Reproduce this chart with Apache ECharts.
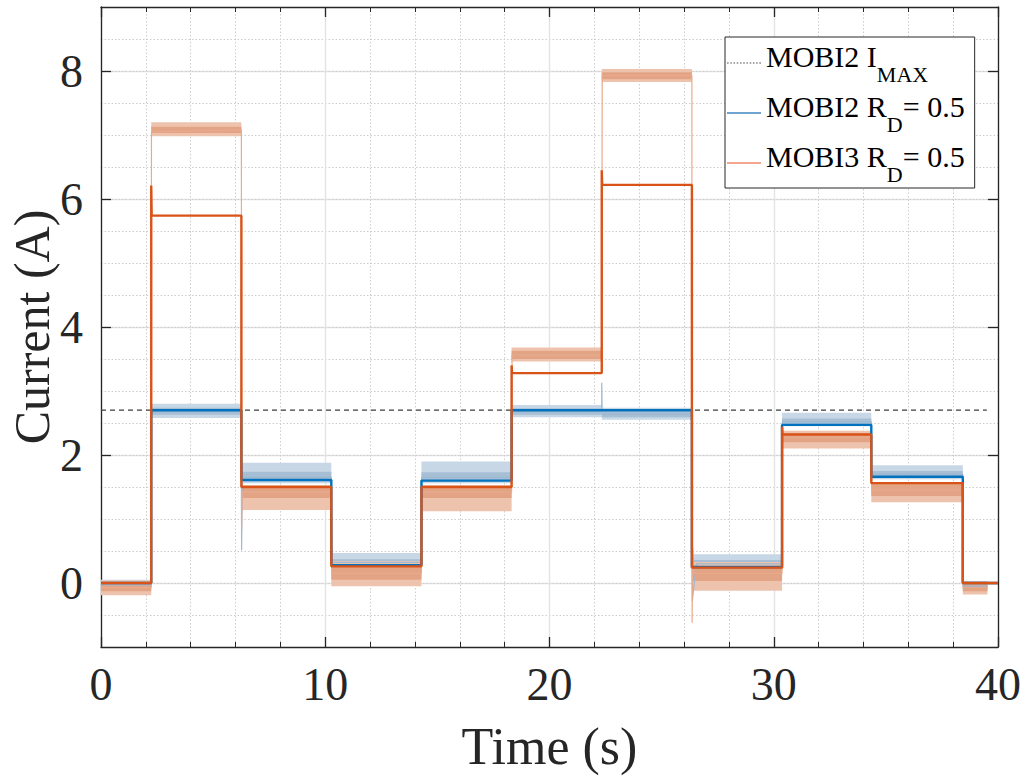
<!DOCTYPE html>
<html>
<head>
<meta charset="utf-8">
<script src="https://cdn.jsdelivr.net/npm/echarts@6.0.0/dist/echarts.min.js"></script>
<style>
html,body{margin:0;padding:0;background:#fff;}
#chart{width:1028px;height:776px;}
</style>
</head>
<body>
<div id="chart"></div>
<script>
// ---------------- DATA ----------------
const yTicks = [0, 2, 4, 6, 8];

// MOBI2 I_MAX reference line
const imaxT = [0, 39.5];
const imaxI = [2.7, 2.7];

// MOBI2 R_D = 0.5 : filtered step (dark blue)
const mobi2T = [0, 2.24, 2.24, 6.26, 6.26, 10.27, 10.27, 14.29, 14.29, 18.31, 18.31, 26.35, 26.35, 30.37, 30.37, 34.35, 34.35, 38.43, 38.43, 40];
const mobi2I = [0, 0, 2.70, 2.70, 1.61, 1.61, 0.28, 0.28, 1.60, 1.60, 2.70, 2.70, 0.25, 0.25, 2.47, 2.47, 1.66, 1.66, 0, 0];

// MOBI3 R_D = 0.5 : filtered step (dark orange)
const mobi3T = [0, 2.24, 2.24, 2.26, 6.26, 6.26, 10.27, 10.27, 14.29, 14.29, 18.31, 18.31, 18.33, 22.33, 22.33, 22.35, 26.35, 26.35, 30.37, 30.37, 30.39, 34.35, 34.35, 38.43, 38.43, 40];
const mobi3I = [0, 0, 6.21, 5.74, 5.74, 1.50, 1.50, 0.26, 0.26, 1.50, 1.50, 3.40, 3.28, 3.28, 6.45, 6.22, 6.22, 0.24, 0.24, 2.44, 2.32, 2.32, 1.56, 1.56, 0, 0];

// raw (noisy) traces: transitions and dips
const raw2T = [0, 2.24, 2.25, 2.26, 6.25, 6.27, 6.30, 10.27, 10.28, 10.30, 14.29, 14.30, 18.31, 18.33, 22.33, 22.33, 22.35, 26.34, 26.37, 26.55, 30.37, 30.38, 34.35, 34.37, 38.43, 38.45, 39.5];
const raw2I = [-0.03, -0.03, 2.18, 2.68, 2.68, 0.51, 1.65, 1.65, 1.10, 0.32, 0.32, 1.65, 1.65, 2.68, 2.68, 3.13, 2.64, 2.64, -0.28, 0.30, 0.30, 2.52, 2.52, 1.70, 1.70, -0.05, -0.05];
const raw3T = [0, 2.24, 2.25, 6.26, 6.27, 6.30, 10.27, 10.29, 14.29, 14.30, 18.31, 18.33, 22.33, 22.35, 26.35, 26.36, 26.38, 26.45, 30.37, 30.39, 34.35, 34.37, 38.43, 38.45, 39.53];
const raw3I = [-0.07, -0.07, 7.05, 7.08, 0.82, 1.42, 1.42, 0.15, 0.15, 1.42, 1.42, 3.56, 3.56, 7.93, 7.93, -0.62, 0.56, 0.15, 0.15, 2.28, 2.28, 1.45, 1.45, -0.07, -0.07];

// raw noise envelopes per plateau
const segT0 = [0, 2.24, 6.26, 10.27, 14.29, 18.31, 22.33, 26.35, 30.37, 34.35, 38.43];
const segT1 = [2.24, 6.26, 10.27, 14.29, 18.31, 22.33, 26.35, 30.37, 34.35, 38.43, 39.53];
const raw2CoreLo  = [-0.07, 2.63, 1.59, 0.27, 1.60, 2.63, 2.59, 0.25, 2.47, 1.64, -0.07];
const raw2CoreHi  = [0.01, 2.74, 1.74, 0.37, 1.73, 2.73, 2.70, 0.36, 2.57, 1.75, 0.00];
const raw2SpikeLo = [-0.10, 2.58, 1.56, 0.23, 1.56, 2.59, 2.55, 0.21, 2.45, 1.62, -0.10];
const raw2SpikeHi = [0.05, 2.80, 1.88, 0.47, 1.90, 2.78, 2.74, 0.45, 2.66, 1.84, 0.03];
const raw3CoreLo  = [-0.13, 7.03, 1.33, 0.05, 1.33, 3.50, 7.87, 0.03, 2.20, 1.36, -0.13];
const raw3CoreHi  = [-0.01, 7.13, 1.50, 0.28, 1.50, 3.63, 7.98, 0.26, 2.34, 1.55, 0.00];
const raw3SpikeLo = [-0.19, 6.98, 1.14, -0.05, 1.12, 3.46, 7.83, -0.12, 2.10, 1.26, -0.18];
const raw3SpikeHi = [0.04, 7.20, 1.53, 0.34, 1.53, 3.68, 8.03, 0.33, 2.38, 1.58, 0.02];

// ---------------- CHART ----------------
const FONT = "'Liberation Serif', 'Times New Roman', serif";
const AX = '#262626';
const pairs = (t, v) => t.map((x, i) => [x, v[i]]);
function bands(coreLo, coreHi, spLo, spHi) {
  const out = [];
  segT0.forEach((t0, i) => {
    out.push([t0, segT1[i], spLo[i], spHi[i], 0]);
    out.push([t0, segT1[i], coreLo[i], coreHi[i], 1]);
  });
  return out;
}
function bandRenderer(coreColor, spikeColor) {
  return function (params, api) {
    const p0 = api.coord([api.value(0), api.value(3)]);
    const p1 = api.coord([api.value(1), api.value(2)]);
    return {
      type: 'rect',
      shape: { x: p0[0], y: p0[1], width: p1[0] - p0[0], height: p1[1] - p0[1] },
      style: { fill: api.value(4) ? coreColor : spikeColor }
    };
  };
}

const N1 = 'MOBI2 I_MAX', N2 = 'MOBI2 R_D = 0.5', N3 = 'MOBI3 R_D = 0.5';
const legendText = {};
legendText[N1] = '{n|MOBI2 I}{s|MAX}';
legendText[N2] = '{n|MOBI2 R}{s|D}{n|= 0.5}';
legendText[N3] = '{n|MOBI3 R}{s|D}{n|= 0.5}';
const lineIcon = 'path://M0,0 L34,0 L34,1.4 L0,1.4 Z';
let dots = '';
for (let k = 0; k < 34; k += 3.4) dots += 'M' + k + ',0 h1.7 v1 h-1.7 Z ';
const dotIcon = 'path://' + dots + 'M33.9,0 h0.1 v1 h-0.1 Z';

const chart = echarts.init(document.getElementById('chart'), null, { renderer: 'svg' });
chart.setOption({
  animation: false,
  backgroundColor: '#fff',
  grid: { left: 101, top: 7, right: 30, bottom: 129, containLabel: false, outerBoundsMode: 'none' },
  xAxis: [
    {
      type: 'value', min: 0, max: 40, interval: 10, position: 'bottom',
      axisLine: { show: true, onZero: false, lineStyle: { color: AX, width: 1.3 } },
      axisTick: { show: true, inside: true, length: 10, lineStyle: { color: AX, width: 1.3 } },
      minorTick: { show: true, splitNumber: 5, length: 5, lineStyle: { color: AX, width: 1 } },
      axisLabel: { fontFamily: FONT, fontSize: 46, color: AX, margin: 14 },
      splitLine: { show: true, lineStyle: { color: '#e3e3e3', width: 1.4 } },
      minorSplitLine: { show: true, lineStyle: { color: '#cdcdcd', width: 1, type: [1.5, 2] } },
      name: 'Time (s)', nameLocation: 'middle', nameGap: 73, nameMoveOverlap: false,
      nameTextStyle: { fontFamily: FONT, fontSize: 52, color: AX }
    },
    {
      type: 'value', min: 0, max: 40, interval: 10, position: 'top',
      axisLine: { show: true, onZero: false, lineStyle: { color: AX, width: 1.3 } },
      axisTick: { show: true, inside: true, length: 10, lineStyle: { color: AX, width: 1.3 } },
      minorTick: { show: true, splitNumber: 5, length: 5, lineStyle: { color: AX, width: 1 } },
      axisLabel: { show: false }, splitLine: { show: false }
    }
  ],
  yAxis: [
    {
      type: 'value', min: -1, max: 9, position: 'left',
      axisLine: { show: true, onZero: false, lineStyle: { color: AX, width: 1.3 } },
      axisTick: { show: true, inside: true, length: 10, customValues: yTicks, lineStyle: { color: AX, width: 1.3 } },
      axisLabel: { customValues: yTicks, fontFamily: FONT, fontSize: 46, color: AX, margin: 18 },
      splitLine: { show: true, lineStyle: { color: '#e3e3e3', width: 1.4 } },
      name: 'Current (A)', nameLocation: 'middle', nameGap: 44, nameMoveOverlap: false,
      nameTextStyle: { fontFamily: FONT, fontSize: 50, lineHeight: 50, color: AX }
    },
    {
      type: 'value', min: -1, max: 9, position: 'right',
      axisLine: { show: true, onZero: false, lineStyle: { color: AX, width: 1.3 } },
      axisTick: { show: true, inside: true, length: 10, customValues: yTicks, lineStyle: { color: AX, width: 1.3 } },
      axisLabel: { show: false }, splitLine: { show: false }
    },
    {
      type: 'value', min: -1, max: 9, interval: 0.5, position: 'left',
      axisLine: { show: false }, axisTick: { show: false }, axisLabel: { show: false },
      splitLine: { show: true, lineStyle: { color: '#cdcdcd', width: 1, type: [1.5, 2] } }
    }
  ],
  legend: {
    orient: 'vertical', left: 725, top: 37,
    padding: [4, 10, 3, 2], itemGap: 6, itemWidth: 34, itemHeight: 14,
    backgroundColor: '#fff', borderColor: AX, borderWidth: 1, borderRadius: 0,
    selectedMode: false,
    data: [
      { name: N1, icon: dotIcon, itemStyle: { color: '#555555' } },
      { name: N2, icon: lineIcon, itemStyle: { color: '#3f86c0' } },
      { name: N3, icon: lineIcon, itemStyle: { color: '#f08a68' } }
    ],
    formatter: n => legendText[n],
    textStyle: {
      rich: {
        n: { fontFamily: FONT, fontSize: 30, color: '#000', lineHeight: 44, verticalAlign: 'top' },
        s: { fontFamily: FONT, fontSize: 22, color: '#000', lineHeight: 44, verticalAlign: 'bottom' }
      }
    }
  },
  series: [
    {
      name: N1, type: 'line', data: pairs(imaxT, imaxI), symbol: 'none', z: 4,
      lineStyle: { color: '#3c3c3c', width: 1.2, type: [5, 4] }, itemStyle: { color: '#3c3c3c' }
    },
    {
      name: N2, type: 'custom', data: bands(raw2CoreLo, raw2CoreHi, raw2SpikeLo, raw2SpikeHi),
      renderItem: bandRenderer('#a6bfd4', '#c8d7e5'), encode: { x: [0, 1], y: [2, 3] }, z: 2,
      itemStyle: { color: '#3f86c0' }
    },
    {
      name: N3, type: 'custom', data: bands(raw3CoreLo, raw3CoreHi, raw3SpikeLo, raw3SpikeHi),
      renderItem: bandRenderer('#e3a486', '#eec3ae'), encode: { x: [0, 1], y: [2, 3] }, z: 2,
      itemStyle: { color: '#f08a68' }
    },
    {
      name: N2, type: 'line', data: pairs(raw2T, raw2I), symbol: 'none', z: 3,
      lineStyle: { color: '#9db8cf', width: 1.2 }, itemStyle: { color: '#9db8cf' }
    },
    {
      name: N3, type: 'line', data: pairs(raw3T, raw3I), symbol: 'none', z: 3,
      lineStyle: { color: '#e8a98c', width: 1.2 }, itemStyle: { color: '#e8a98c' }
    },
    {
      name: 'MOBI2 filtered', type: 'line', data: pairs(mobi2T, mobi2I), symbol: 'none', z: 5,
      lineStyle: { color: '#0072BD', width: 2.4 }, itemStyle: { color: '#0072BD' }
    },
    {
      name: 'MOBI3 filtered', type: 'line', data: pairs(mobi3T, mobi3I), symbol: 'none', z: 6,
      lineStyle: { color: '#D95319', width: 2.4 }, itemStyle: { color: '#D95319' }
    }
  ]
});
</script>
</body>
</html>
